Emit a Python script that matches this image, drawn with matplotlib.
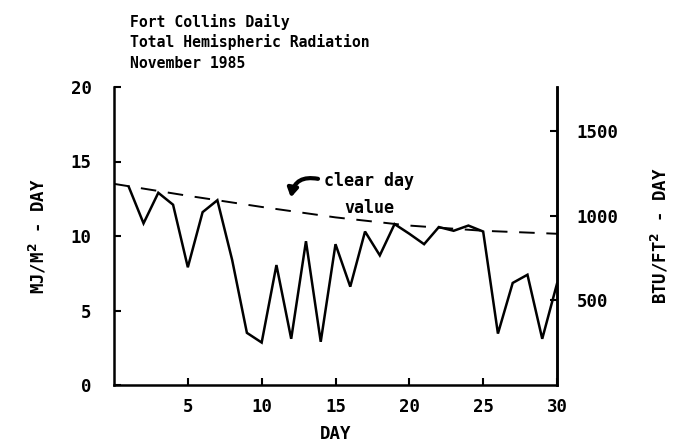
import matplotlib
matplotlib.use("Agg")
import matplotlib.pyplot as plt
import numpy as np

# Daily total hemispheric radiation (MJ/m^2-day), November 1985
days = [1, 2, 3, 4, 5, 6, 7, 8, 9, 10, 11, 12, 13, 14, 15, 16, 17, 18, 19, 20,
        21, 22, 23, 24, 25, 26, 27, 28, 29, 30]
radiation = [13.3, 10.85, 12.9, 12.1, 7.9, 11.6, 12.4, 8.4, 3.5, 2.85, 8.05, 3.1,
             9.65, 2.9, 9.45, 6.6, 10.3, 8.7, 10.8, 10.15, 9.45, 10.6, 10.35, 10.7,
             10.3, 3.45, 6.85, 7.4, 3.1, 6.8]

# Clear day reference curve
clear_days = [0, 5, 10, 15, 20, 25, 30]
clear_value = [13.5, 12.7, 11.95, 11.25, 10.7, 10.35, 10.15]

x_ticks = [5, 10, 15, 20, 25, 30]
y_ticks = [0, 5, 10, 15, 20]
btu_ticks = [500, 1000, 1500]
MJ_TO_BTU = 88.05

title_lines = ["Fort Collins Daily", "Total Hemispheric Radiation", "November 1985"]

FONT = "DejaVu Sans Mono"
WEIGHT = "bold"
W, H = 673, 445
fig = plt.figure(figsize=(W / 100, H / 100), dpi=100)
ax = fig.add_axes([114 / W, 1 - 385 / H, (557 - 114) / W, (385 - 87) / H])

ax.plot(days, radiation, color="black", lw=1.8, solid_joinstyle="miter")
ax.plot(clear_days, clear_value, color="black", lw=1.4, dashes=(8, 6))

ax.set_xlim(0, 30)
ax.set_ylim(0, 20)
ax.set_xticks(x_ticks)
ax.set_yticks(y_ticks)
ax.spines["top"].set_visible(False)
for s in ["left", "bottom", "right"]:
    ax.spines[s].set_linewidth(1.8)
ax.tick_params(axis="both", direction="in", length=5, width=1.5, labelsize=12.5)
ax.tick_params(axis="x", pad=9)
ax.tick_params(axis="y", pad=16)
for lab in ax.get_xticklabels() + ax.get_yticklabels():
    lab.set_family(FONT)
    lab.set_weight(WEIGHT)

ax.set_xlabel("DAY", family=FONT, weight=WEIGHT, fontsize=12.5, labelpad=7)
ax.set_ylabel(r"MJ/M$^{\mathbf{2}}$ - DAY", family=FONT, weight=WEIGHT, fontsize=12.5, labelpad=16)

ax2 = ax.twinx()
ax2.set_ylim(0, 20 * MJ_TO_BTU)
ax2.set_yticks(btu_ticks)
ax2.spines["top"].set_visible(False)
ax2.spines["left"].set_visible(False)
ax2.spines["bottom"].set_visible(False)
ax2.spines["right"].set_linewidth(1.8)
ax2.tick_params(axis="y", direction="in", length=5, width=1.5, labelsize=12.5, pad=14)
for lab in ax2.get_yticklabels():
    lab.set_family(FONT)
    lab.set_weight(WEIGHT)
ax2.set_ylabel(r"BTU/FT$^{\mathbf{2}}$ - DAY", family=FONT, weight=WEIGHT, fontsize=12.5, labelpad=22)

# annotation
ax.annotate("", xy=(11.95, 12.4), xytext=(14.0, 13.8),
            arrowprops=dict(arrowstyle="-|>,head_length=0.5,head_width=0.3",
                            color="black", lw=3.0,
                            connectionstyle="arc3,rad=0.55"))
ax.text(14.2, 13.7, "clear day", family=FONT, weight=WEIGHT, fontsize=12, va="center", ha="left")
ax.text(15.6, 11.85, "value", family=FONT, weight=WEIGHT, fontsize=12, va="center", ha="left")

baselines = [27, 47, 68]
for line, b in zip(title_lines, baselines):
    fig.text(130 / W, 1 - b / H, line, family=FONT, weight=WEIGHT, fontsize=10.6,
             va="baseline", ha="left")

fig.savefig("out.png", dpi=100)
